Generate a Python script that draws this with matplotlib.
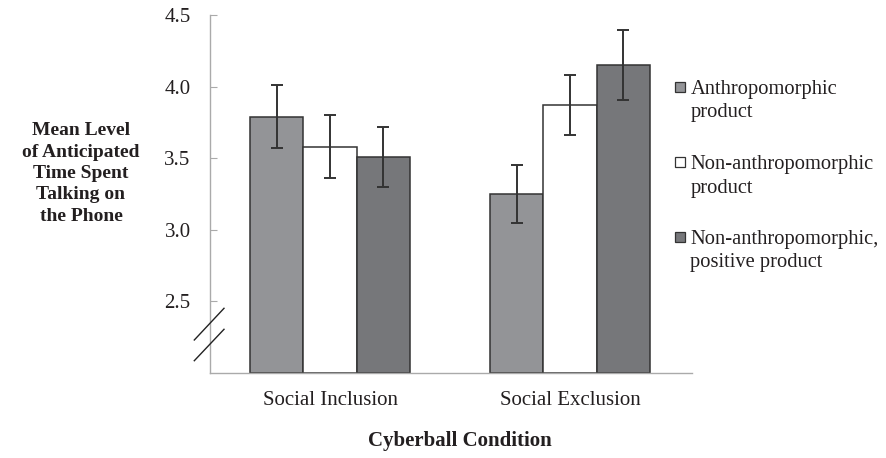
import matplotlib
matplotlib.use("Agg")
import matplotlib.pyplot as plt
from matplotlib.patches import Rectangle
from matplotlib.lines import Line2D
import numpy as np

plt.rcParams['font.family'] = ['Liberation Serif', 'DejaVu Serif']

conditions = ["Social Inclusion", "Social Exclusion"]
series = ["Anthropomorphic\nproduct", "Non-anthropomorphic\nproduct",
          "Non-anthropomorphic,\npositive product"]
means = {
    series[0]: [3.79, 3.25],
    series[1]: [3.58, 3.87],
    series[2]: [3.51, 4.15],
}
errors = {
    series[0]: [0.22, 0.20],
    series[1]: [0.22, 0.21],
    series[2]: [0.21, 0.245],
}
colors = ["#939497", "#ffffff", "#76777a"]
yticks = [2.5, 3.0, 3.5, 4.0, 4.5]

W, H = 887, 458
fig = plt.figure(figsize=(W / 100, H / 100), dpi=100)
ax = fig.add_axes([0.2368, 0.1856, 0.7807 - 0.2368, 0.9672 - 0.1856])

x = np.arange(len(conditions))
w = 0.222
edge = "#333333"
for i, s in enumerate(series):
    xi = x + (i - 1) * w
    ax.bar(xi, np.array(means[s]) - 2.0, bottom=2.0, width=w, color=colors[i],
           edgecolor=edge, linewidth=1.1, zorder=2)
    ax.errorbar(xi, means[s], yerr=errors[s], fmt='none', ecolor=edge,
                elinewidth=1.4, capsize=4.5, capthick=1.4, zorder=3)

ax.set_xlim(-0.5, 1.51)
ax.set_ylim(2.0, 4.5)
ax.set_yticks(yticks)
ax.set_yticklabels([f"{v:.1f}" for v in yticks])
ax.set_xticks(x)
ax.set_xticklabels(conditions)
ax.tick_params(axis='x', length=0, pad=13, labelsize=15, colors='#231f20')
ax.tick_params(axis='y', direction='in', length=5, width=0.8, color='#aaaaaa',
               pad=14, labelsize=15, labelcolor='#231f20')
for sp in ['top', 'right']:
    ax.spines[sp].set_visible(False)
for sp in ['left', 'bottom']:
    ax.spines[sp].set_color('#aaaaaa')
    ax.spines[sp].set_linewidth(1.0)

# axis break marks
for (x0, y0, x1, y1) in [(194.3, 340, 224, 308.3), (194.3, 360.7, 224, 329.3)]:
    fig.add_artist(Line2D([x0 / W, x1 / W], [1 - y0 / H, 1 - y1 / H],
                          color='#222222', linewidth=1.0))

fig.text(81 / W, 1 - 173.5 / H,
         "Mean Level\nof Anticipated\nTime Spent\nTalking on\nthe Phone",
         ha='center', va='center', fontsize=14, fontweight='bold',
         color='#231f20', linespacing=1.33)
fig.text(460 / W, 1 - 441 / H, "Cyberball Condition", ha='center',
         va='center', fontsize=15, fontweight='bold', color='#231f20')

# legend: square aligned with the first line of each entry
for i, (lab, c) in enumerate(zip(series, colors)):
    y0 = 87 + 75 * i
    fig.add_artist(Rectangle((675 / W, 1 - (y0 + 5) / H), 10 / W, 10 / H,
                             facecolor=c, edgecolor=edge, linewidth=0.9))
    for j, line in enumerate(lab.split("\n")):
        fig.text(690.5 / W, 1 - (y0 + 23.5 * j) / H, line, ha='left',
                 va='center_baseline', fontsize=14.8, color='#231f20')

fig.savefig("out.png", dpi=100)
